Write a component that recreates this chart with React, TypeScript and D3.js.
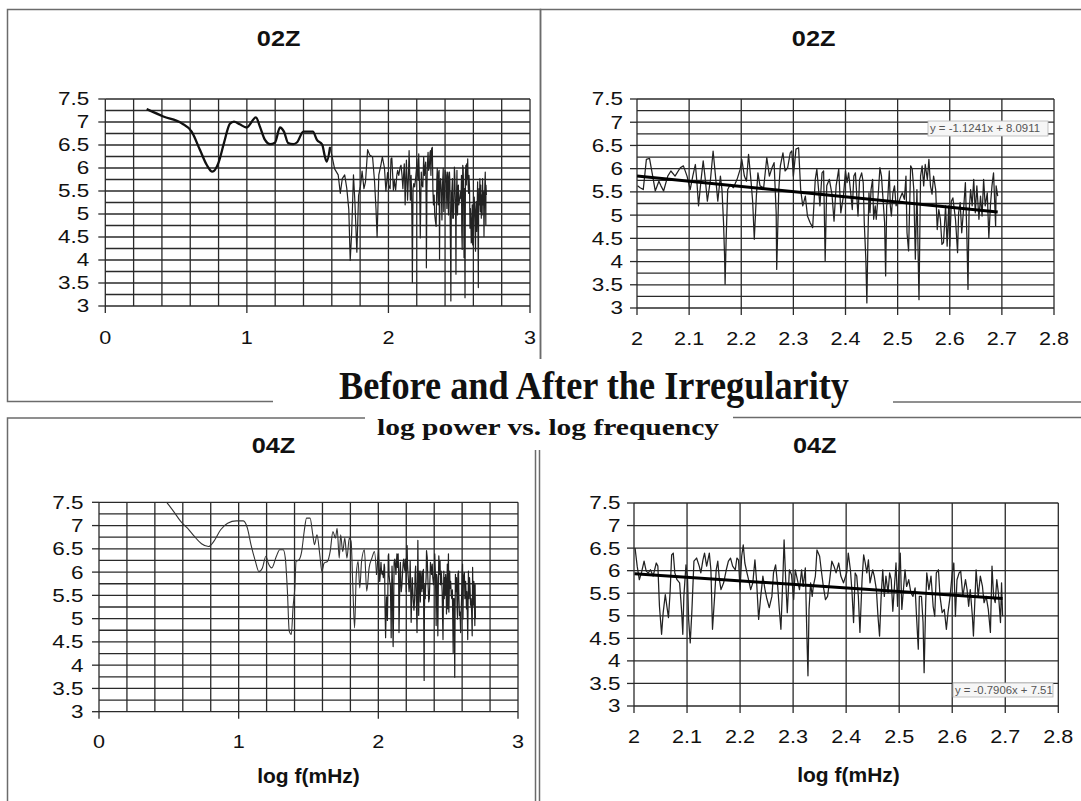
import React from "react";
import * as d3 from "d3";

// ---------- DATA ----------
// 02Z: low-frequency smooth part
const Z02_LOW_X = [0.292, 0.41, 0.54, 0.61, 0.669, 0.716, 0.756, 0.798, 0.838, 0.88, 0.909, 0.95, 0.998, 1.064, 1.092, 1.128, 1.163, 1.198, 1.234, 1.262, 1.292, 1.328, 1.355, 1.399, 1.466, 1.495, 1.532, 1.551, 1.564, 1.588];
const Z02_LOW_Y = [7.28, 7.12, 6.97, 6.79, 6.39, 6.07, 5.92, 6.1, 6.54, 6.96, 7.01, 6.95, 6.88, 7.1, 6.9, 6.61, 6.52, 6.55, 6.88, 6.79, 6.54, 6.52, 6.56, 6.79, 6.79, 6.61, 6.51, 6.25, 6.14, 6.46];
// 02Z: 1.6 .. 2.0
const Z02_MID_X = [1.62, 1.645, 1.66, 1.674, 1.691, 1.706, 1.72, 1.73, 1.74, 1.753, 1.763, 1.777, 1.789, 1.802, 1.814, 1.827, 1.838, 1.853, 1.868, 1.888, 1.902, 1.912, 1.92, 1.932, 1.947, 1.957, 1.972, 1.982, 1.994];
const Z02_MID_Y = [5.98, 5.85, 5.45, 5.77, 5.85, 5.55, 5.1, 3.99, 4.57, 5.85, 5.27, 4.17, 5.4, 5.6, 5.93, 5.55, 5.7, 6.4, 6.28, 6.24, 5.7, 5.12, 4.5, 5.85, 6.07, 6.24, 6.0, 5.5, 5.9];
// 02Z: 2.0 .. 2.7
const Z02_HIGH_X = [2.001, 2.006, 2.012, 2.018, 2.024, 2.029, 2.035, 2.042, 2.046, 2.051, 2.059, 2.065, 2.073, 2.083, 2.089, 2.096, 2.102, 2.107, 2.112, 2.115, 2.118, 2.123, 2.127, 2.131, 2.135, 2.141, 2.146, 2.15, 2.155, 2.16, 2.163, 2.166, 2.168, 2.169, 2.171, 2.174, 2.179, 2.185, 2.192, 2.198, 2.201, 2.206, 2.21, 2.214, 2.219, 2.222, 2.225, 2.229, 2.232, 2.236, 2.243, 2.249, 2.254, 2.259, 2.263, 2.267, 2.268, 2.272, 2.275, 2.28, 2.284, 2.289, 2.294, 2.297, 2.3, 2.305, 2.31, 2.314, 2.318, 2.323, 2.327, 2.332, 2.337, 2.342, 2.345, 2.351, 2.355, 2.358, 2.361, 2.364, 2.369, 2.374, 2.378, 2.382, 2.387, 2.391, 2.396,
  2.4, 2.403, 2.406, 2.41, 2.413, 2.416, 2.419, 2.424, 2.427, 2.431, 2.434, 2.436, 2.439, 2.441, 2.443, 2.445, 2.447, 2.449, 2.452, 2.454, 2.457, 2.459, 2.463, 2.466, 2.469, 2.472, 2.475, 2.477, 2.479, 2.481, 2.484, 2.486, 2.488, 2.491, 2.494, 2.497, 2.5, 2.503, 2.505, 2.509, 2.513, 2.516, 2.518, 2.521, 2.525, 2.528, 2.531, 2.534, 2.537, 2.541, 2.544, 2.547, 2.55, 2.553, 2.557, 2.56, 2.563, 2.566, 2.569, 2.573, 2.576, 2.579, 2.582, 2.585, 2.588, 2.592, 2.595, 2.598, 2.6, 2.603, 2.606, 2.611, 2.615, 2.617, 2.62, 2.623, 2.627, 2.63, 2.633, 2.635, 2.637, 2.64, 2.643, 2.646, 2.649, 2.652, 2.656, 2.659, 2.662, 2.665, 2.668, 2.672, 2.675, 2.678, 2.681, 2.684, 2.688, 2.689, 2.692];
const Z02_HIGH_Y = [5.63, 5.59, 5.55, 6.2, 6.22, 5.91, 5.52, 5.73, 5.63, 5.52, 5.84, 5.95, 5.84, 6.02, 6.06, 5.84, 5.55, 5.84, 6.09, 5.7, 5.2, 5.77, 6.17, 5.77, 5.3, 5.77, 6.38, 5.91, 5.3, 5.84, 5.55, 4.84, 4.12, 3.51, 4.48, 5.55, 5.66, 5.59, 5.77, 5.99, 6.2, 5.84, 5.73, 6.31, 5.7, 5.27, 4.48, 5.41, 5.91, 5.63, 5.59, 6.24, 5.84, 6.02, 6.13, 5.05, 3.83, 5.55, 6.06, 6.34, 5.95, 6.02, 6.34, 6.38, 5.84, 6.42, 6.45, 5.55, 5.2, 5.41, 4.98, 4.84, 4.73, 5.77, 5.99, 5.2, 5.91, 5.95, 4.01, 5.63, 5.77, 5.45, 4.87, 5.63, 5.99, 5.05, 5.41,
  5.95, 5.7, 5.91, 5.48, 5.12, 5.84, 5.91, 4.98, 5.77, 5.91, 5.7, 4.84, 4.05, 3.11, 4.48, 5.48, 5.05, 5.55, 5.77, 4.91, 5.2, 4.91, 5.48, 6.02, 5.84, 5.34, 4.84, 3.69, 5.2, 5.34, 5.95, 5.2, 4.98, 5.48, 5.63, 5.2, 5.27, 5.3, 5.37, 5.48, 5.34, 5.84, 4.62, 4.23, 6.06, 5.99, 5.55, 4.05, 5.55, 3.18, 5.84, 6.06, 5.63, 6.09, 5.77, 6.2, 5.63, 5.45, 5.84, 5.55, 4.69, 5.12, 4.91, 4.37, 4.41, 5.2, 4.33, 5.2, 4.33, 5.3, 5.37, 4.91, 4.19, 5.05, 5.27, 4.62, 5.2, 5.7, 4.48, 3.4, 5.05, 5.55, 5.2, 5.77, 5.05, 5.63, 4.91, 5.41, 4.98, 5.77, 5.2, 5.48, 4.51, 5.2, 5.63, 5.91, 4.76, 5.63, 5.41];
const TREND_02 = { slope: -1.1241, intercept: 8.0911 };

// 04Z: below 2.0
const Z04_LOW_X = [0.43, 0.485, 0.535, 0.585, 0.635, 0.685, 0.734, 0.784, 0.822, 0.871, 0.921, 0.983, 1.033, 1.063, 1.088, 1.12, 1.145, 1.17, 1.195, 1.212, 1.237, 1.27, 1.294, 1.319, 1.334, 1.349, 1.362, 1.377, 1.389, 1.402, 1.411, 1.431, 1.451, 1.469, 1.486, 1.511, 1.531, 1.543, 1.561, 1.581, 1.596, 1.611, 1.636, 1.655, 1.675, 1.693, 1.705, 1.72, 1.73, 1.745, 1.76, 1.775, 1.792, 1.805, 1.817, 1.83, 1.842, 1.855, 1.867, 1.88, 1.9, 1.917, 1.934, 1.954, 1.972, 1.987];
const Z04_LOW_Y = [7.72, 7.5, 7.3, 7.09, 6.94, 6.76, 6.61, 6.55, 6.66, 6.91, 7.05, 7.1, 7.1, 6.94, 6.59, 6.23, 6.01, 6.09, 6.34, 6.19, 6.09, 6.34, 6.48, 6.48, 6.3, 5.59, 4.73, 4.66, 5.23, 5.66, 6.23, 6.26, 6.44, 6.87, 7.16, 7.16, 6.8, 6.59, 6.8, 6.37, 6.01, 6.19, 6.23, 6.44, 6.87, 6.73, 6.94, 6.3, 6.8, 6.44, 6.73, 6.3, 6.73, 6.66, 5.73, 4.8, 5.94, 6.23, 5.66, 6.23, 6.48, 5.59, 6.09, 6.3, 6.44, 5.94];
// 04Z: 2.0 .. 2.7
const Z04_HIGH_X = [2.002, 2.006, 2.01, 2.014, 2.019, 2.023, 2.027, 2.031, 2.036, 2.042, 2.045, 2.048, 2.052, 2.055, 2.059, 2.062, 2.065, 2.068, 2.071, 2.074, 2.077, 2.081, 2.086, 2.09, 2.092, 2.094, 2.098, 2.101, 2.103, 2.106, 2.109, 2.113, 2.118, 2.123, 2.126, 2.13, 2.133, 2.137, 2.142, 2.145, 2.148, 2.152, 2.155, 2.158, 2.161, 2.164, 2.169, 2.174, 2.178, 2.182, 2.186, 2.191, 2.194, 2.197, 2.2, 2.203, 2.206, 2.209, 2.213, 2.216, 2.22, 2.224, 2.228, 2.231, 2.235, 2.239, 2.243, 2.247, 2.25, 2.255, 2.26, 2.263, 2.267, 2.271, 2.274, 2.277, 2.281, 2.283, 2.286, 2.289, 2.293, 2.297, 2.301, 2.304, 2.308, 2.312, 2.316, 2.319, 2.323, 2.326, 2.328, 2.33, 2.333, 2.336, 2.338, 2.342, 2.345, 2.35, 2.353, 2.357, 2.361, 2.365, 2.369, 2.373, 2.377, 2.381, 2.386, 2.39, 2.395,
  2.401, 2.404, 2.408, 2.411, 2.414, 2.417, 2.42, 2.423, 2.426, 2.43, 2.433, 2.436, 2.439, 2.442, 2.445, 2.45, 2.453, 2.457, 2.46, 2.463, 2.466, 2.469, 2.472, 2.475, 2.479, 2.482, 2.485, 2.488, 2.491, 2.494, 2.497, 2.499, 2.502, 2.505, 2.508, 2.511, 2.514, 2.518, 2.522, 2.526, 2.53, 2.533, 2.536, 2.538, 2.542, 2.545, 2.547, 2.55, 2.552, 2.556, 2.56, 2.564, 2.567, 2.57, 2.574, 2.577, 2.581, 2.585, 2.589, 2.592, 2.596, 2.6, 2.603, 2.606, 2.609, 2.613, 2.616, 2.62, 2.625, 2.628, 2.631, 2.634, 2.638, 2.64, 2.643, 2.645, 2.649, 2.653, 2.657, 2.66, 2.664, 2.668, 2.672, 2.675, 2.678, 2.681, 2.684, 2.687, 2.691, 2.693, 2.695];
const Z04_HIGH_Y = [6.5, 6.1, 5.8, 5.95, 6.21, 5.99, 5.95, 6.02, 5.88, 6.17, 6.1, 5.21, 4.59, 5.07, 5.47, 5.21, 4.96, 5.51, 6.35, 6.39, 5.95, 5.8, 5.73, 5.07, 4.59, 5.43, 6.13, 5.8, 4.92, 4.4, 5.07, 6.21, 6.28, 6.1, 5.95, 6.24, 6.39, 6.1, 6.39, 6.02, 4.7, 5.43, 6.02, 6.21, 5.8, 5.58, 5.73, 6.02, 6.21, 6.28, 6.1, 6.02, 6.28, 6.24, 5.58, 6.32, 6.57, 6.17, 5.95, 5.8, 5.58, 5.73, 6.24, 5.8, 4.92, 5.43, 5.88, 5.58, 5.4, 5.18, 5.43, 5.95, 6.13, 5.65, 5.14, 4.7, 5.95, 6.68, 5.8, 5.07, 6.02, 5.91, 5.36, 6.02, 5.8, 5.58, 6.02, 5.65, 6.06, 4.55, 3.67, 5.14, 5.73, 5.43, 5.65, 5.88, 6.46, 6.32, 6.02, 5.65, 5.36, 5.43, 5.8, 6.21, 6.1, 5.95, 6.17, 5.88, 5.73,
  5.95, 6.39, 6.02, 5.54, 4.85, 5.95, 5.88, 5.43, 4.63, 5.8, 6.35, 6.17, 5.95, 6.24, 5.73, 6.02, 5.88, 5.58, 4.99, 4.55, 5.43, 6.02, 5.43, 5.88, 5.51, 5.95, 5.8, 5.1, 5.65, 6.17, 5.21, 5.88, 6.39, 5.14, 5.58, 6.02, 5.65, 5.8, 5.51, 5.43, 5.62, 4.92, 4.26, 5.43, 5.43, 4.85, 3.74, 5.29, 5.95, 5.58, 5.88, 5.21, 4.99, 5.95, 6.02, 5.43, 5.07, 5.14, 4.7, 5.07, 5.43, 5.95, 6.17, 4.99, 5.8, 5.95, 5.99, 5.43, 5.8, 5.58, 5.21, 5.58, 4.99, 4.55, 5.43, 6.02, 5.43, 5.88, 5.65, 5.29, 5.43, 5.14, 4.63, 6.1, 5.43, 5.29, 5.8, 5.51, 4.85, 5.73, 4.99];
const TREND_04 = { slope: -0.7906, intercept: 7.514 };

const Y_TICKS = [3, 3.5, 4, 4.5, 5, 5.5, 6, 6.5, 7, 7.5];
const X_TICKS_FULL = [0, 1, 2, 3];
const X_TICKS_ZOOM = [2, 2.1, 2.2, 2.3, 2.4, 2.5, 2.6, 2.7, 2.8];
const MAIN_TITLE = "Before and After the Irregularity";
const SUB_TITLE = "log power vs. log frequency";
const X_LABEL = "log f(mHz)";

type Pt = [number, number];
const zip = (xs: number[], ys: number[]): Pt[] => xs.map((x, i) => [x, ys[i]]);

const SERIES: Record<string, { low: Pt[]; rest: Pt[]; trend: { slope: number; intercept: number } }> = {
  "02": { low: zip(Z02_LOW_X, Z02_LOW_Y), rest: [...zip(Z02_MID_X, Z02_MID_Y), ...zip(Z02_HIGH_X, Z02_HIGH_Y)], trend: TREND_02 },
  "04": { low: zip(Z04_LOW_X, Z04_LOW_Y), rest: zip(Z04_HIGH_X, Z04_HIGH_Y), trend: TREND_04 },
};

const fmtTrend = (t: { slope: number; intercept: number }) =>
  `y = ${t.slope.toFixed(4)}x + ${t.intercept}`;

// ---------- LAYOUT ----------
const SANS = "'Liberation Sans', Arial, Helvetica, sans-serif";
const SERIF = "'Liberation Serif', 'Times New Roman', serif";

const PANELS = [
  { id: "tl", title: "02Z", tx: 278.6, ty: 46, xr: [105.3, 530], yr: [306, 99], xd: [0, 3], xGrid: 0.2, xTicks: X_TICKS_FULL, yGrid: 0.25, s: "02", zoom: false, xLabY: 344, yGap: 16, lowW: 2.3, lowC: "#111", restW: 1.2, xlabel: null as null | { x: number; y: number }, eq: null as null | { x: number; y: number; w: number; h: number; len: number } },
  { id: "tr", title: "02Z", tx: 813.6, ty: 46, xr: [637, 1054], yr: [308, 99], xd: [2, 2.8], xGrid: 0.1, xTicks: X_TICKS_ZOOM, yGrid: 0.25, s: "02", zoom: true, xLabY: 345, yGap: 14, lowW: 1, lowC: "#333", restW: 1.25, xlabel: null, eq: { x: 928, y: 121, w: 120, h: 15, len: 110 } },
  { id: "bl", title: "04Z", tx: 273.5, ty: 453, xr: [99, 518], yr: [711.7, 502.3], xd: [0, 3], xGrid: 0.2, xTicks: X_TICKS_FULL, yGrid: 0.25, s: "04", zoom: false, xLabY: 748, yGap: 15.6, lowW: 1.1, lowC: "#333", restW: 1.2, xlabel: { x: 308.5, y: 783 }, eq: null },
  { id: "br", title: "04Z", tx: 814.7, ty: 453, xr: [634, 1058.3], yr: [706, 503], xd: [2, 2.8], xGrid: 0.1, xTicks: X_TICKS_ZOOM, yGrid: 0.5, s: "04", zoom: true, xLabY: 743, yGap: 13.4, lowW: 1, lowC: "#333", restW: 1.25, xlabel: { x: 848.5, y: 782 }, eq: { x: 953, y: 683, w: 100, h: 14, len: 104 } },
];

const GRID = "#2a2a2a";
const BORDER = "#6b6b6b";

function Panel({ p }: { p: (typeof PANELS)[number] }) {
  const x = d3.scaleLinear().domain(p.xd).range(p.xr);
  const y = d3.scaleLinear().domain([3, 7.5]).range(p.yr);
  const ser = SERIES[p.s];
  const xGridVals = d3.range(p.xd[0], p.xd[1] + 1e-6, p.xGrid);
  const yGridVals = d3.range(3, 7.5 + 1e-6, p.yGrid);
  const lineLin = d3.line<Pt>().x((d) => x(d[0])).y((d) => y(d[1]));
  const lineSmooth = d3.line<Pt>().x((d) => x(d[0])).y((d) => y(d[1])).curve(d3.curveMonotoneX);
  const clipId = `clip-${p.id}`;
  const lowPts = ser.low;
  const restPts: Pt[] = p.zoom
    ? ser.rest.filter((d) => d[0] >= p.xd[0])
    : [lowPts[lowPts.length - 1], ...ser.rest];
  const t0 = Math.max(p.xd[0], restPts[0][0] - 0.001);
  const t1 = restPts[restPts.length - 1][0];
  const trendPts: Pt[] = [
    [t0, ser.trend.slope * t0 + ser.trend.intercept],
    [t1, ser.trend.slope * t1 + ser.trend.intercept],
  ];
  const [px0, px1] = p.xr;
  const [py0, py1] = p.yr; // py0 bottom, py1 top
  return (
    <g>
      <defs>
        <clipPath id={clipId}>
          <rect x={px0} y={py1} width={px1 - px0} height={py0 - py1} />
        </clipPath>
      </defs>
      <text transform={`translate(${p.tx},${p.ty}) scale(1.15,1)`} textAnchor="middle" fontFamily={SANS} fontWeight="bold" fontSize={22} fill="#111">
        {p.title}
      </text>
      {yGridVals.map((v) => (
        <line key={"h" + v} x1={px0} x2={px1} y1={y(v)} y2={y(v)} stroke={GRID} strokeWidth={1.3} />
      ))}
      {xGridVals.map((v) => (
        <line key={"v" + v} x1={x(v)} x2={x(v)} y1={py1} y2={py0} stroke={GRID} strokeWidth={1.3} />
      ))}
      {Y_TICKS.map((v) => (
        <g key={"yt" + v}>
          <line x1={px0 - 7} x2={px0} y1={y(v)} y2={y(v)} stroke={GRID} strokeWidth={1.3} />
          <text transform={`translate(${px0 - p.yGap},${y(v) + 6.4}) scale(1.25,1)`} textAnchor="end" fontFamily={SANS} fontSize={18} fill="#111">
            {String(v)}
          </text>
        </g>
      ))}
      {p.xTicks.map((v) => (
        <g key={"xt" + v}>
          <line x1={x(v)} x2={x(v)} y1={py0} y2={py0 + 7} stroke={GRID} strokeWidth={1.3} />
          <text transform={`translate(${x(v)},${p.xLabY}) scale(1.2,1)`} textAnchor="middle" fontFamily={SANS} fontSize={18} fill="#111">
            {d3.format("~g")(v)}
          </text>
        </g>
      ))}
      <g clipPath={`url(#${clipId})`}>
        {!p.zoom && (
          <path d={lineSmooth(lowPts) || ""} fill="none" stroke={p.lowC} strokeWidth={p.lowW} strokeLinejoin="round" />
        )}
        <path d={lineLin(restPts) || ""} fill="none" stroke="#222" strokeWidth={p.restW} strokeLinejoin="round" />
        {p.zoom && (
          <path d={lineLin(trendPts) || ""} fill="none" stroke="#000" strokeWidth={3} />
        )}
      </g>
      {p.eq && (
        <g>
          <defs>
            <clipPath id={clipId + "-eq"}>
              <rect x={p.eq.x} y={p.eq.y} width={p.eq.w} height={p.eq.h} />
            </clipPath>
          </defs>
          <rect x={p.eq.x} y={p.eq.y} width={p.eq.w} height={p.eq.h} fill="#f6f6f6" stroke="#b5b5b5" strokeWidth={0.8} />
          <text x={p.eq.x + 2} y={p.eq.y + p.eq.h / 2 + 3.5} fontFamily={SANS} fontSize={10} fill="#555" textLength={p.eq.len} lengthAdjust="spacingAndGlyphs" clipPath={`url(#${clipId}-eq)`}>
            {fmtTrend(ser.trend)}
          </text>
        </g>
      )}
      {p.xlabel && (
        <text transform={`translate(${p.xlabel.x},${p.xlabel.y}) scale(1.05,1)`} textAnchor="middle" fontFamily={SANS} fontWeight="bold" fontSize={20} fill="#111">
          {X_LABEL}
        </text>
      )}
    </g>
  );
}

export default function App() {
  return (
    <svg width={1081} height={801} viewBox="0 0 1081 801" style={{ position: "absolute", left: 0, top: 0, background: "#fff" }}>
      <rect x={0} y={0} width={1081} height={801} fill="#fff" />
      <rect x={7.5} y={9.5} width={533} height={392} fill="none" stroke={BORDER} strokeWidth={1.5} />
      <rect x={540.5} y={9.5} width={600} height={392.5} fill="none" stroke={BORDER} strokeWidth={1.5} />
      <rect x={7.5} y={418} width={528} height={420} fill="none" stroke={BORDER} strokeWidth={1.5} />
      <rect x={539.5} y={417.5} width={600} height={420} fill="none" stroke={BORDER} strokeWidth={1.5} />
      {PANELS.map((p) => (
        <Panel key={p.id} p={p} />
      ))}
      <rect x={273} y={359} width={620} height={51} fill="#fff" />
      <rect x={365} y={410} width={368} height={40} fill="#fff" />
      <text x={339} y={399} fontFamily={SERIF} fontWeight="bold" fontSize={39} fill="#111" textLength={510} lengthAdjust="spacingAndGlyphs">
        {MAIN_TITLE}
      </text>
      <text x={377} y={435} fontFamily={SERIF} fontWeight="bold" fontSize={24} fill="#111" textLength={342} lengthAdjust="spacingAndGlyphs">
        {SUB_TITLE}
      </text>
    </svg>
  );
}
